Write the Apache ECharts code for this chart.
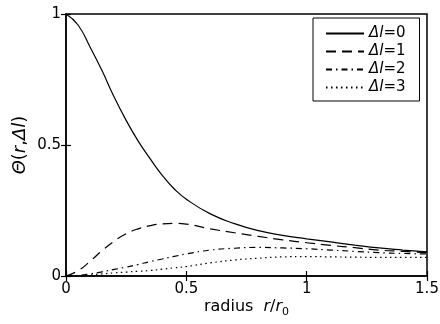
<!DOCTYPE html>
<html>
<head>
<meta charset="utf-8">
<script src="https://cdn.jsdelivr.net/npm/echarts@6/dist/echarts.min.js"></script>
<style>
  html, body { margin: 0; padding: 0; background: #fff; }
  #chart { width: 440px; height: 324px; }
</style>
</head>
<body>
<div id="chart"></div>
<script>
// radius r/r0 sample positions
const radius = [0, 0.05, 0.1, 0.15, 0.2, 0.25, 0.3, 0.35, 0.4, 0.45, 0.5,
  0.6, 0.7, 0.8, 0.9, 1.0, 1.1, 1.2, 1.3, 1.4, 1.5];

// Θ(r, Δl)
const dl0 = [1.0, 0.958, 0.874, 0.783, 0.683, 0.594, 0.515, 0.447, 0.384, 0.332, 0.293,
  0.237, 0.2, 0.173, 0.155, 0.142, 0.13, 0.118, 0.107, 0.099, 0.092];
const dl1 = [0, 0.02, 0.056, 0.097, 0.133, 0.161, 0.18, 0.192, 0.199, 0.201, 0.198,
  0.18, 0.165, 0.151, 0.138, 0.127, 0.117, 0.108, 0.099, 0.094, 0.089];
const dl2 = [0, 0.002, 0.008, 0.016, 0.025, 0.034, 0.044, 0.055, 0.065, 0.075, 0.084,
  0.099, 0.106, 0.109, 0.107, 0.104, 0.099, 0.094, 0.089, 0.086, 0.084];
const dl3 = [0, 0.001, 0.004, 0.008, 0.012, 0.015, 0.018, 0.021, 0.026, 0.031, 0.036,
  0.05, 0.061, 0.068, 0.073, 0.074, 0.073, 0.072, 0.071, 0.071, 0.071];

const names = ["dl0", "dl1", "dl2", "dl3"];
const labels = ["0", "1", "2", "3"];
const dashes = ["solid", [10, 6], [6, 4, 1.5, 4], [1.5, 3.5]];
const values = [dl0, dl1, dl2, dl3];

const font = "DejaVu Sans";

function pairs(ys) {
  return radius.map((r, i) => [r, ys[i]]);
}

const chart = echarts.init(document.getElementById("chart"));

const hiddenAxis = {
  axisLine: { show: false },
  axisLabel: { show: false },
  splitLine: { show: false },
  axisTick: { show: true, inside: true, length: 5, lineStyle: { color: "#000", width: 1.2 } },
};

chart.setOption({
  animation: false,
  grid: {
    left: 66, top: 14, right: 13, bottom: 48,
    outerBoundsMode: "none",
    show: true, borderColor: "#000", borderWidth: 1.5, backgroundColor: "transparent",
  },
  legend: {
    orient: "vertical",
    left: 313, top: 18,
    data: names,
    borderColor: "#000", borderWidth: 1,
    padding: [8, 14, 6, 12],
    itemWidth: 38, itemHeight: 14, itemGap: 3,
    itemStyle: { opacity: 0 },
    textStyle: {
      fontFamily: font, fontSize: 15, color: "#000",
      rich: { i: { fontFamily: font, fontSize: 15, fontStyle: "italic", color: "#000" } },
    },
    formatter: (n) => "{i|Δl}=" + labels[names.indexOf(n)],
  },
  xAxis: [
    {
      type: "value", min: 0, max: 1.5, interval: 0.5,
      name: "radius  {i|r}/{i|r}{sub|0}",
      nameLocation: "middle", nameGap: 20,
      nameMoveOverlap: false,
      nameTextStyle: {
        fontFamily: font, fontSize: 16, color: "#000", lineHeight: 22,
        rich: {
          i: { fontFamily: font, fontSize: 16, fontStyle: "italic", color: "#000", lineHeight: 22 },
          sub: { fontFamily: font, fontSize: 11, color: "#000", verticalAlign: "bottom", lineHeight: 11 },
        },
      },
      axisLine: { lineStyle: { color: "#000", width: 1.5 } },
      axisTick: { inside: true, length: 5, lineStyle: { color: "#000", width: 1.2 } },
      axisLabel: { fontFamily: font, fontSize: 15, color: "#000", margin: 6 },
      splitLine: { show: false },
    },
    Object.assign({ type: "value", position: "top", min: 0, max: 1.5, interval: 0.5 }, hiddenAxis),
  ],
  yAxis: [
    {
      type: "value", min: 0, max: 1, interval: 0.5,
      name: "{i|Θ}({i|r},{i|Δl})",
      nameLocation: "middle", nameGap: 37, nameRotate: 90,
      nameMoveOverlap: false,
      nameTextStyle: {
        fontFamily: font, fontSize: 18, color: "#000",
        rich: { i: { fontFamily: font, fontSize: 18, fontStyle: "italic", color: "#000" } },
      },
      axisLine: { lineStyle: { color: "#000", width: 1.5 } },
      axisTick: { inside: true, length: 5, lineStyle: { color: "#000", width: 1.2 } },
      axisLabel: { fontFamily: font, fontSize: 15, color: "#000", margin: 5 },
      splitLine: { show: false },
    },
    Object.assign({ type: "value", position: "right", min: 0, max: 1, interval: 0.5 }, hiddenAxis),
  ],
  series: names.map((n, k) => ({
    name: n,
    type: "line",
    data: pairs(values[k]),
    smooth: 0.5,
    symbol: "none",
    showSymbol: false,
    lineStyle: { color: "#000", width: 1.2, type: dashes[k] },
    itemStyle: { color: "#000" },
  })),
});
</script>
</body>
</html>
